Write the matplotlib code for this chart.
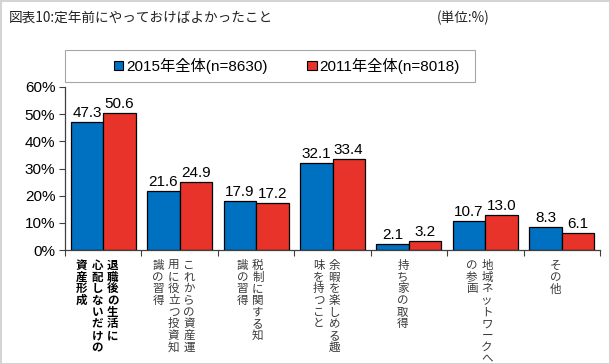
import matplotlib
matplotlib.use("Agg")
import matplotlib.pyplot as plt
from matplotlib.patches import Rectangle, Patch
import numpy as np

# ---- data ----
categories = [
    ["退職後の生活に", "心配しないだけの", "資産形成"],
    ["これからの資産運", "用に役立つ投資知", "識の習得"],
    ["税制に関する知", "識の習得"],
    ["余暇を楽しめる趣", "味を持つこと"],
    ["持ち家の取得"],
    ["地域ネットワークへ", "の参画"],
    ["その他"],
]
series_names = ["2015年全体(n=8630)", "2011年全体(n=8018)"]
values_2015 = [47.3, 21.6, 17.9, 32.1, 2.1, 10.7, 8.3]
values_2011 = [50.6, 24.9, 17.2, 33.4, 3.2, 13.0, 6.1]
yticks = [0, 10, 20, 30, 40, 50, 60]
title = "図表10:定年前にやっておけばよかったこと"
unit = "(単位:%)"

# ---- style ----
W, H = 610, 364
BLUE = "#0070C0"
RED = "#E8332A"
LAT = ["Liberation Sans", "Noto Sans CJK JP"]
JP = ["Noto Sans CJK JP", "DejaVu Sans"]

fig = plt.figure(figsize=(W / 100, H / 100), dpi=100)
fig.patch.set_facecolor("white")

ax = fig.add_axes([65 / W, 1 - 250 / H, 535 / W, (250 - 87) / H])
x = np.arange(len(values_2015))
bw = 0.425
b1 = ax.bar(x - bw / 2, values_2015, bw, color=BLUE, edgecolor="black", linewidth=0.9)
b2 = ax.bar(x + bw / 2, values_2011, bw, color=RED, edgecolor="black", linewidth=0.9)

for bars, vals in ((b1, values_2015), (b2, values_2011)):
    for rect, v in zip(bars, vals):
        ax.annotate(f"{v:.1f}", (rect.get_x() + rect.get_width() / 2, v),
                    xytext=(0, 2), textcoords="offset pixels",
                    ha="center", va="bottom", fontsize=11, family=LAT, color="black")

ax.set_xlim(-0.5, len(x) - 0.5)
ax.set_ylim(0, 60)
ax.set_yticks(yticks)
ax.set_yticklabels([f"{t}%" for t in yticks], fontsize=11, family=LAT)
ax.set_xticks(np.arange(-0.5, len(x), 1.0))
ax.set_xticklabels([])
ax.tick_params(axis="y", direction="out", length=4, width=0.8, color="#404040", pad=3)
ax.tick_params(axis="x", direction="out", length=4, width=0.8, color="#404040")
for s in ("top", "right"):
    ax.spines[s].set_visible(False)
for s in ("left", "bottom"):
    ax.spines[s].set_color("#404040")
    ax.spines[s].set_linewidth(0.9)

# vertical (tategaki) category labels: one text per column
col_gap = 15.5
pitch = 11.3
top_off = -9.0
LFS = 8.3

# calibrate linespacing so that the character pitch is `pitch` pixels
renderer = fig.canvas.get_renderer()
probe_txt = "資\n産\n形\n成\n運\n用\n知\n識"
probe = fig.text(0, 0, probe_txt, fontsize=LFS, family=JP, linespacing=1.0)
one = fig.text(0, 0, "資", fontsize=LFS, family=JP, linespacing=1.0)
h_all = probe.get_window_extent(renderer).height
h_one = one.get_window_extent(renderer).height
step = (h_all - h_one) / 7.0
probe.remove()
one.remove()
LS = pitch / step if step > 0 else 1.0

for i, cols in enumerate(categories):
    n = len(cols)
    bold = (i == 0)
    for j, col in enumerate(cols):
        dx = -6 + ((n - 1) / 2 - j) * col_gap
        ax.annotate("\n".join(col), (i, 0), xycoords=("data", "axes fraction"),
                    xytext=(dx, top_off), textcoords="offset pixels",
                    ha="center", va="top", multialignment="center",
                    fontsize=LFS, linespacing=LS,
                    family=JP, fontweight="bold" if bold else "normal",
                    color="black" if bold else "#3a3a3a", annotation_clip=False)

# legend with manual frame
fig.patches.append(Rectangle((65 / W, 1 - 82 / H), 410 / W, 32 / H, transform=fig.transFigure,
                             fill=False, edgecolor="#a6a6a6", linewidth=0.8))
handles = [Patch(facecolor=BLUE, edgecolor="black", linewidth=0.8),
           Patch(facecolor=RED, edgecolor="black", linewidth=0.8)]
fig.legend(handles, series_names, loc="center", bbox_to_anchor=(287 / W, 1 - 66 / H),
           ncol=2, frameon=False, prop={"family": LAT, "size": 11},
           handlelength=0.6, handleheight=0.6, handletextpad=0.2, columnspacing=2.6,
           borderpad=0.2)

# title & unit
fig.text(9 / W, 1 - 18 / H, title, ha="left", va="center", fontsize=9.8, family=JP, color="#222222")
fig.text(437 / W, 1 - 18 / H, unit, ha="left", va="center", fontsize=9.8, family=JP, color="#222222")

# outer frame
fig.patches.append(Rectangle((0, 0), 1, 1, transform=fig.transFigure, fill=False,
                             edgecolor="#d4d4d4", linewidth=2.2))

fig.savefig("out.png", dpi=100, facecolor="white")
